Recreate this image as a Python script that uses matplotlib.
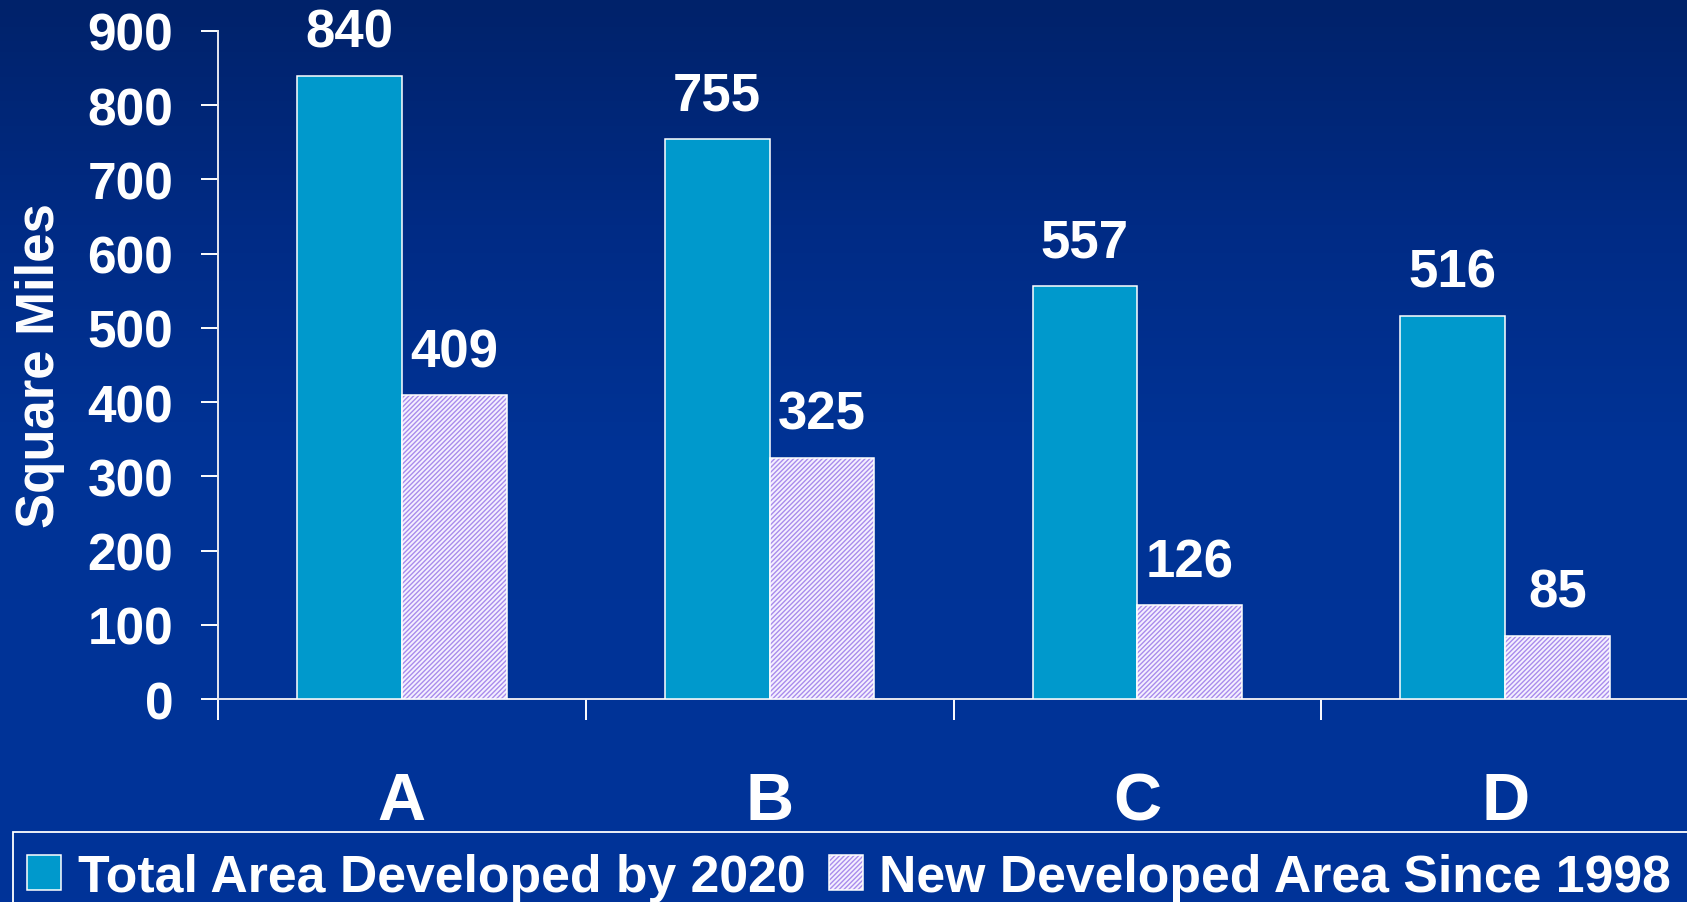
import numpy as np
import matplotlib
matplotlib.use("Agg")
import matplotlib.pyplot as plt
from matplotlib.patches import Rectangle
from matplotlib.colors import LinearSegmentedColormap
from matplotlib.legend_handler import HandlerTuple

categories = ["A", "B", "C", "D"]
total_2020 = [840, 755, 557, 516]
new_since_1998 = [409, 325, 126, 85]
series_names = ["Total Area Developed by 2020", "New Developed Area Since 1998"]
y_ticks = [0, 100, 200, 300, 400, 500, 600, 700, 800, 900]

plt.rcParams["font.family"] = ["Liberation Sans", "DejaVu Sans"]
plt.rcParams["font.weight"] = "bold"
plt.rcParams["hatch.linewidth"] = 1.0

W, H = 1687, 903
fig = plt.figure(figsize=(W / 100, H / 100), dpi=100)

# background gradient
bg = fig.add_axes([0, 0, 1, 1], zorder=-10)
bg.set_axis_off()
cmap = LinearSegmentedColormap.from_list(
    "bgc", [(0.0, "#00226a"), (0.25, "#002b85"), (0.5, "#003396"), (1.0, "#003399")])
grad = np.linspace(0, 1, 256).reshape(-1, 1)
bg.imshow(grad, aspect="auto", cmap=cmap, extent=[0, 1, 0, 1], origin="upper")
bg.set_xlim(0, 1)
bg.set_ylim(0, 1)

ax = fig.add_axes([218 / W, 1 - 700 / H, (1689 - 218) / W, (700 - 32) / H])
ax.patch.set_alpha(0)

x = np.arange(len(categories))
w = 0.285
blue = "#0099cc"
hatch_col = "#a98cec"

b1 = ax.bar(x - w / 2, total_2020, w, color=blue, edgecolor="white", linewidth=1.1,
            label=series_names[0], zorder=3)
b2 = ax.bar(x + w / 2, new_since_1998, w, color="#f4f0ff", edgecolor=hatch_col,
            hatch="///////", linewidth=0, label=series_names[1], zorder=3)
b2o = ax.bar(x + w / 2, new_since_1998, w, fill=False, edgecolor="white", linewidth=1.1, zorder=4)

for xi, v in zip(x - w / 2, total_2020):
    ax.annotate(str(v), (xi, v), xytext=(0, 21), textcoords="offset points",
                ha="center", va="baseline", color="white", fontsize=38, fontweight="bold")
for xi, v in zip(x + w / 2, new_since_1998):
    ax.annotate(str(v), (xi, v), xytext=(0, 21), textcoords="offset points",
                ha="center", va="baseline", color="white", fontsize=38, fontweight="bold")

ax.set_xlim(-0.5, 3.5)
ax.set_ylim(0, 900)
ax.set_yticks(y_ticks)
ax.set_yticklabels([str(t) for t in y_ticks])
ax.tick_params(axis="y", direction="out", length=12.2, width=1.4, colors="white",
               labelsize=37, pad=20)
ax.set_xticks(x)
ax.set_xticklabels(categories)
ax.tick_params(axis="x", which="major", length=0, colors="white", labelsize=48, pad=52)
ax.set_xticks(np.arange(-0.5, 4.0, 1.0), minor=True)
ax.tick_params(axis="x", which="minor", direction="out", length=15, width=1.4, colors="white")
for lab in ax.get_yticklabels() + ax.get_xticklabels():
    lab.set_fontweight("bold")

for s in ["top", "right"]:
    ax.spines[s].set_visible(False)
for s in ["left", "bottom"]:
    ax.spines[s].set_color("#e8e8f0")
    ax.spines[s].set_linewidth(1.4)

ax.set_ylabel("Square Miles", fontsize=38, fontweight="bold", color="white", labelpad=16)

# legend
fig.patches.append(Rectangle((13 / W, -0.2), 1.2, 0.2 + (1 - 833 / H), transform=fig.transFigure,
                             fill=False, edgecolor="white", linewidth=1.3, zorder=5))
leg = fig.legend(handles=[b1, (b2[0], b2o[0])], labels=series_names, loc="lower left",
                 bbox_to_anchor=(27 / W, 1 - 903 / H), ncol=2, frameon=False,
                 handler_map={tuple: HandlerTuple(ndivide=1, pad=0)},
                 prop={"size": 37.3, "weight": "bold"}, handlelength=0.66, handleheight=0.66,
                 handletextpad=0.32, columnspacing=0.45, borderpad=0.0, borderaxespad=0.0)
for t in leg.get_texts():
    t.set_color("white")
leg.legend_handles[0].set_edgecolor("white")
leg.legend_handles[0].set_linewidth(1.1)

fig.savefig("out.png", dpi=100)
